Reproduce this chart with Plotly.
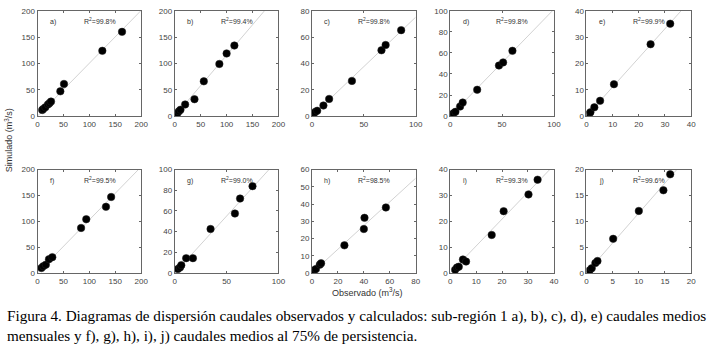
import numpy as np
import plotly.graph_objects as go

# ---- data (observed vs simulated flows, m3/s) ----
obs_a = [9, 11, 15, 20, 23, 26, 44, 51, 125, 163]
sim_a = [11.5, 13.5, 16.5, 22, 24.5, 27.5, 47, 61, 124, 160]
obs_b = [2.5, 5, 8, 11, 20, 38, 56, 86, 100, 115]
sim_b = [3, 5.5, 9, 12, 22, 32, 66, 99, 119, 134]
obs_c = [1.5, 3, 5, 11, 16.5, 38.5, 67, 71, 86]
sim_c = [1.7, 3, 4, 8, 13, 26.7, 50, 54, 65.3]
obs_d = [1.5, 3, 5, 9.5, 12, 26, 47, 51, 60]
sim_d = [1.3, 2.6, 4, 9, 12.8, 25, 48, 51, 62]
obs_e = [0.9, 1.5, 3, 5.2, 10.5, 24.5, 32]
sim_e = [0.8, 1.4, 3.3, 5.8, 12.1, 27.3, 35.1]
obs_f = [7.5, 11, 16, 22, 28.5, 84, 94, 132, 142]
sim_f = [9.5, 13, 16, 26.5, 30.5, 87, 104, 128, 147]
obs_g = [3, 5, 6.3, 11, 17.5, 34.5, 58, 63, 75]
sim_g = [3.7, 5.3, 7.5, 14.3, 14.3, 42.5, 57.5, 72, 84]
obs_h = [1.5, 3, 6, 7, 25, 40, 40.5, 57]
sim_h = [1.5, 2.2, 4.8, 5.6, 16, 25.5, 32, 38]
obs_i = [1.9, 2.6, 3.3, 4.9, 6.1, 16, 20.6, 30.2, 33.7]
sim_i = [1.2, 2.1, 2.4, 5.2, 4.4, 14.7, 23.9, 30.4, 36.1]
obs_j = [0.6, 1.0, 1.7, 2.1, 5.1, 10, 14.7, 16]
sim_j = [0.5, 0.9, 1.9, 2.3, 6.6, 12, 16, 19.1]

panel_labels = ["a)", "b)", "c)", "d)", "e)", "f)", "g)", "h)", "i)", "j)"]
r2_labels = ["99.8%", "99.4%", "99.8%", "99.8%", "99.9%",
             "99.5%", "99.0%", "98.5%", "99.3%", "99.6%"]
x_max = [200, 200, 100, 100, 40, 200, 100, 80, 40, 20]
y_max = [200, 200, 80, 100, 40, 200, 100, 60, 40, 20]
x_dtick = [50, 50, 50, 50, 10, 50, 50, 20, 10, 5]
y_dtick = [50, 50, 20, 20, 10, 50, 20, 10, 10, 5]
caption_lines = [
    "Figura 4. Diagramas de dispersión caudales observados y calculados: "
    "sub-región 1 a), b), c), d), e) caudales medios",
    "mensuales y f), g), h), i), j) caudales medios al 75% de persistencia.",
]

observed = [obs_a, obs_b, obs_c, obs_d, obs_e, obs_f, obs_g, obs_h, obs_i, obs_j]
simulated = [sim_a, sim_b, sim_c, sim_d, sim_e, sim_f, sim_g, sim_h, sim_i, sim_j]

W, H = 709, 350
# plot boxes in pixels (left, right, top, bottom)
col_px = [(36, 141), (175, 280), (314, 419), (454, 559), (592, 698)]
row_px = [(7, 115), (170, 276)]

fig = go.Figure()
layout = {}
annotations = []
tick_font = dict(family="Liberation Sans, Arial", size=8, color="#444444")

for k in range(10):
    r, c = divmod(k, 5)
    l, rr = col_px[c]
    t, b = row_px[r]
    sfx = "" if k == 0 else str(k + 1)
    xa, ya = "x" + sfx, "y" + sfx
    x = np.array(observed[k], dtype=float)
    y = np.array(simulated[k], dtype=float)
    slope = float((x * y).sum() / (x * x).sum())
    xm = x_max[k]
    fig.add_trace(go.Scatter(x=[0, xm], y=[0, slope * xm], mode="lines",
                             line=dict(color="#d2d2d2", width=1),
                             xaxis=xa, yaxis=ya, showlegend=False,
                             hoverinfo="skip"))
    fig.add_trace(go.Scatter(x=x, y=y, mode="markers",
                             marker=dict(symbol="circle", size=7.5, color="black",
                                         line=dict(color="#222222", width=0.5)),
                             xaxis=xa, yaxis=ya, showlegend=False))
    common = dict(showline=True, linecolor="#666666", linewidth=1,
                  mirror="ticks", ticks="inside", ticklen=2, tickcolor="#666666",
                  showgrid=False, zeroline=False, tickfont=tick_font)
    layout["xaxis" + sfx] = dict(domain=[l / W, rr / W], range=[0, xm],
                                 dtick=x_dtick[k], tick0=0, anchor=ya, **common)
    layout["yaxis" + sfx] = dict(domain=[1 - b / H, 1 - t / H], range=[0, y_max[k]],
                                 dtick=y_dtick[k], tick0=0, anchor=xa, **common)
    annotations.append(dict(xref=xa + " domain", yref=ya + " domain",
                            x=0.1, y=0.89, text=panel_labels[k], showarrow=False,
                            xanchor="left", yanchor="middle",
                            font=dict(family="Liberation Sans, Arial", size=7, color="#333333")))
    annotations.append(dict(xref=xa + " domain", yref=ya + " domain",
                            x=0.6, y=0.9, text="R<sup>2</sup>=" + r2_labels[k],
                            showarrow=False, xanchor="center", yanchor="middle",
                            font=dict(family="Liberation Sans, Arial", size=7, color="#333333")))

annotations.append(dict(xref="paper", yref="paper", x=7 / W, y=1 - 140 / H,
                        text="Simulado (m<sup>3</sup>/s)", textangle=-90, showarrow=False,
                        xanchor="center", yanchor="middle",
                        font=dict(family="Liberation Sans, Arial", size=9, color="#333333")))
annotations.append(dict(xref="paper", yref="paper", x=370 / W, y=1 - 296 / H,
                        text="Observado (m<sup>3</sup>/s)", showarrow=False,
                        xanchor="center", yanchor="middle",
                        font=dict(family="Liberation Sans, Arial", size=9, color="#333333")))
for i, (line, yc) in enumerate(zip(caption_lines, [320, 341])):
    annotations.append(dict(xref="paper", yref="paper", x=3 / W, y=1 - yc / H,
                            text=line, showarrow=False, xanchor="left", yanchor="middle",
                            align="left",
                            font=dict(family="Liberation Serif, Times New Roman",
                                      size=15.2, color="black")))

fig.update_layout(width=W, height=H, margin=dict(l=0, r=0, t=0, b=0),
                  plot_bgcolor="white", paper_bgcolor="white",
                  annotations=annotations, **layout)
fig.write_html("out.html", config={"displayModeBar": False},
               post_script="document.body.style.margin='0';document.body.style.overflow='hidden';")
